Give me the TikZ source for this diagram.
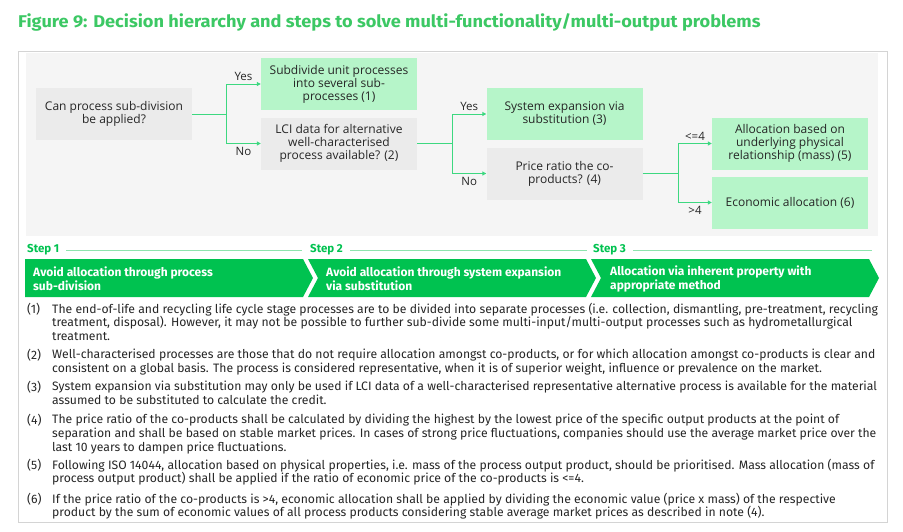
\documentclass[tikz,border=0pt]{standalone}
\usepackage{fontspec}
\setmainfont{Fira Sans}
\newfontfamily\boxfont{Open Sans}
\usetikzlibrary{arrows.meta,positioning}

\definecolor{titlegreen}{HTML}{3CC864}
\definecolor{stepgreen}{HTML}{00C250}
\definecolor{rulegreen}{HTML}{8FE3AE}
\definecolor{linkgreen}{HTML}{3DD880}
\definecolor{boxgreen}{HTML}{B6F5C9}
\definecolor{boxgray}{HTML}{EBEBEB}
\definecolor{panelgray}{HTML}{F5F5F5}
\definecolor{framegray}{HTML}{D4D4D4}
\definecolor{textdark}{HTML}{262626}

\tikzset{case/.style={fill=#1,minimum width=156pt,minimum height=52pt,inner sep=2pt,
    align=center,text=textdark,font=\boxfont\fontsize{12}{13}\selectfont},
  case/.default={boxgray},
  link/.style={draw=linkgreen,line width=1pt},
  linkarrow/.style={link,-{Triangle[length=4pt,width=4pt]}},
  answer/.style={font=\boxfont\fontsize{11.5}{12}\selectfont,text=textdark,inner sep=3pt},
  steplabel/.style={anchor=west,inner sep=0pt,text=stepgreen,font=\bfseries\fontsize{11.5}{12}\selectfont},
  steprule/.style={draw=rulegreen,line width=1pt},
  steptext/.style={anchor=west,inner sep=0pt,align=left,text=white,font=\bfseries\fontsize{12}{14}\selectfont},
  notenum/.style={anchor=north west,inner sep=0pt,text=textdark,font=\fontsize{12.2}{13.8}\selectfont},
  notetext/.style={notenum,align=left}}

\begin{document}
\begin{tikzpicture}[x=1pt,y=-1pt]
\useasboundingbox[fill=white] (0,0) rectangle (903,531);

% title and frame
\node [anchor=base west,inner sep=0pt,text=titlegreen,font=\bfseries\fontsize{17}{18}\selectfont,xscale=1.07] (title) at (18,27)
  {Figure 9: Decision hierarchy and steps to solve multi-functionality/multi-output problems};
\draw [framegray,line width=1pt] (18.5,51.5) rectangle (887,522);
\fill [panelgray] (26,53) rectangle (878,236);

% decision boxes
\node [case] (subdiv) at (114,114) {Can process sub-division\\be applied?};
\node [case=boxgreen] (subproc) at (339,84) {Subdivide unit processes\\into several sub-\\processes (1)};
\node [case] (lcidata) at (339,143.5) {LCI data for alternative\\well-characterised\\process available? (2)};
\node [case=boxgreen] (sysexp) at (564.5,114) {System expansion via\\substitution (3)};
\node [case] (ratio) at (564.5,173.5) {Price ratio the co-\\products? (4)};
\node [case=boxgreen] (mass) at (790,143.5) {Allocation based on\\underlying physical\\relationship (mass) (5)};
\node [case=boxgreen] (econ) at (790,202.5) {Economic allocation (6)};

% connectors
\draw [link] (subdiv.east) -- ++(34,0) coordinate (fork1);
\draw [linkarrow] (fork1) |- (subproc.west) node [answer,pos=0.75,above] {Yes};
\draw [linkarrow] (fork1) |- (lcidata.west) node [answer,pos=0.75,below] {No};
\draw [link] (lcidata.east) -- ++(35,0) coordinate (fork2);
\draw [linkarrow] (fork2) |- (sysexp.west) node [answer,pos=0.75,above] {Yes};
\draw [linkarrow] (fork2) |- (ratio.west) node [answer,pos=0.75,below] {No};
\draw [link] (ratio.east) -- ++(35.5,0) coordinate (fork3);
\draw [linkarrow] (fork3) |- (mass.west) node [answer,pos=0.75,above] {<=4};
\draw [linkarrow] (fork3) |- (econ.west) node [answer,pos=0.75,below] {>4};

% steps
\node [steplabel] (step1) at (27,250) {Step 1};
\node [steplabel] (step2) at (310,250) {Step 2};
\node [steplabel] (step3) at (593,250) {Step 3};
\draw [steprule] ([xshift=7pt]step1.east) -- (302,250);
\draw [steprule] ([xshift=7pt]step2.east) -- (587,250);
\draw [steprule] ([xshift=7pt]step3.east) -- (872,250);
\fill [stepgreen] (25,259) -- (303,259) -- (313,278) -- (303,297) -- (25,297) -- cycle;
\fill [stepgreen] (308,259) -- (586,259) -- (596,278) -- (586,297) -- (308,297) -- (318,278) -- cycle;
\fill [stepgreen] (591,259) -- (869,259) -- (879,278) -- (869,297) -- (591,297) -- (601,278) -- cycle;
\node [steptext] (avoid1) at (33,278.5) {Avoid allocation through process\\sub-division};
\node [steptext] (avoid2) at (326,278.5) {Avoid allocation through system expansion\\via substitution};
\node [steptext] (inherent) at (610,278.5) {Allocation via inherent property with\\appropriate method};

% notes
\node [notenum] (n1) at (27,302.5) {(1)};
\node [notetext] (t1) at (52,302.5) {The end-of-life and recycling life cycle stage processes are to be divided into separate processes (i.e. collection, dismantling, pre-treatment, recycling\\treatment, disposal). However, it may not be possible to further sub-divide some multi-input/multi-output processes such as hydrometallurgical\\treatment.};
\node [notenum] (n2) at (27,348.5) {(2)};
\node [notetext] (t2) at (52,348.5) {Well-characterised processes are those that do not require allocation amongst co-products, or for which allocation amongst co-products is clear and\\consistent on a global basis. The process is considered representative, when it is of superior weight, influence or prevalence on the market.};
\node [notenum] (n3) at (27,380.5) {(3)};
\node [notetext] (t3) at (52,380.5) {System expansion via substitution may only be used if LCI data of a well-characterised representative alternative process is available for the material\\assumed to be substituted to calculate the credit.};
\node [notenum] (n4) at (27,414) {(4)};
\node [notetext] (t4) at (52,414) {The price ratio of the co-products shall be calculated by dividing the highest by the lowest price of the specific output products at the point of\\separation and shall be based on stable market prices. In cases of strong price fluctuations, companies should use the average market price over the\\last 10 years to dampen price fluctuations.};
\node [notenum] (n5) at (27,458.5) {(5)};
\node [notetext] (t5) at (52,458.5) {Following ISO 14044, allocation based on physical properties, i.e. mass of the process output product, should be prioritised. Mass allocation (mass of\\process output product) shall be applied if the ratio of economic price of the co-products is <=4.};
\node [notenum] (n6) at (27,492.5) {(6)};
\node [notetext] (t6) at (52,492.5) {If the price ratio of the co-products is >4, economic allocation shall be applied by dividing the economic value (price x mass) of the respective\\product by the sum of economic values of all process products considering stable average market prices as described in note (4).};
\end{tikzpicture}
\end{document}
